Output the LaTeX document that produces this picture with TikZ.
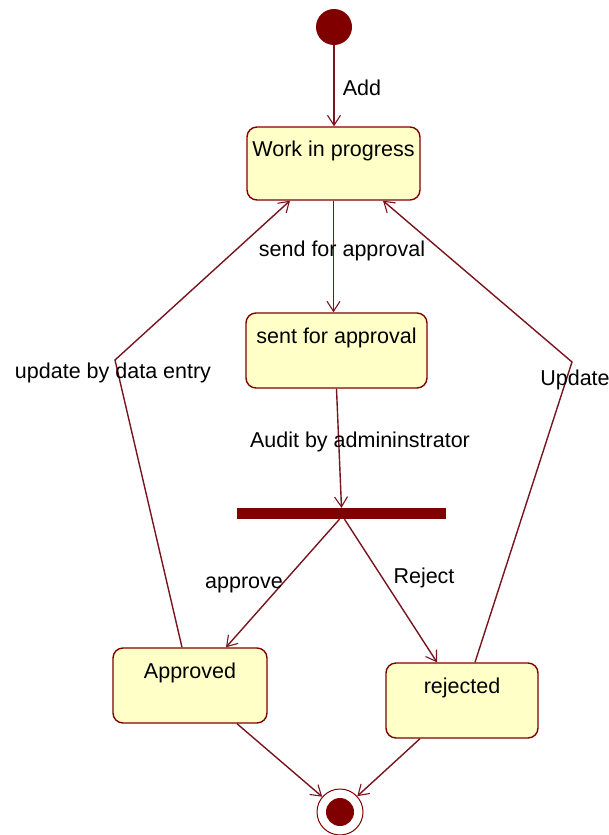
\documentclass[tikz,border=0pt]{standalone}
\usepackage{fontspec}
\setmainfont{Liberation Sans}
\usetikzlibrary{arrows.meta,calc}
\definecolor{umlred}{RGB}{128,0,0}
\definecolor{umlline}{RGB}{120,20,30}
\definecolor{umlfill}{RGB}{255,255,200}
\tikzset{
  state/.style={draw=umlred, fill=umlfill, rounded corners=10pt, line width=1.4pt,
    text height=15pt, text depth=29pt, inner sep=0pt, font=\fontsize{21.5}{25}\selectfont},
  trans/.style={draw=umlline, line width=1.4pt, -{Straight Barb[length=10pt,width=13pt,line width=1.1pt]}},
  lbl/.style={font=\fontsize{21.5}{25}\selectfont, inner sep=0pt},
}
\begin{document}
\begin{tikzpicture}[x=1pt,y=-1pt]
\useasboundingbox (0,0) rectangle (609,835);
% states
\node[circle, fill=umlred, minimum size=36pt, inner sep=0pt] (init) at (334,27) {};
\node[state, minimum width=173pt, minimum height=73pt] (wip) at (333.5,163.5) {Work in progress};
\node[state, minimum width=181pt, minimum height=75pt] (sent) at (336.5,350.5) {sent for approval};
\node[fill=umlred, minimum width=209pt, minimum height=11pt, inner sep=0pt] (bar) at (341.5,513.5) {};
\node[state, minimum width=154pt, minimum height=75pt] (appr) at (190,685.5) {Approved};
\node[state, minimum width=152pt, minimum height=75pt] (rej) at (462,700.5) {rejected};
\node[circle, draw=umlred, line width=1pt, fill=white, minimum size=46pt, inner sep=0pt] (final) at (340,812) {};
\node[circle, fill=umlred, minimum size=28pt, inner sep=0pt] (finalin) at (final.center) {};
% bend points
\coordinate (bendL) at (115,360);
\coordinate (bendR) at (572,362);
% transitions
\draw[trans] (init.south) -- (init.south |- wip.north);
\draw[trans] (wip.south) -- (wip.south |- sent.north);
\draw[trans] (sent.south) -- (bar.north);
\draw[trans] ([xshift=-2pt]bar.south) -- ([xshift=36pt]appr.north);
\draw[trans] ([xshift=3pt]bar.south) -- ([xshift=-25pt]rej.north);
\draw[trans] ([xshift=-8pt]appr.north) -- (bendL) -- ([xshift=-43.5pt]wip.south);
\draw[trans] ([xshift=13pt]rej.north) -- (bendR) -- ([xshift=49.5pt]wip.south);
\draw[trans] ([xshift=47pt]appr.south) -- (final);
\draw[trans] ([xshift=-42pt]rej.south) -- (final);
% labels
\node[lbl] (lAdd) at (362,88) {Add};
\node[lbl] (lSend) at (342,251) {send for approval};
\node[lbl] (lAudit) at (360,442) {Audit by admininstrator};
\node[lbl] (lUpd) at (113,373) {update by data entry};
\node[lbl] (lUpdate) at (575,380) {Update};
\node[lbl] (lApprove) at (244,585) {approve};
\node[lbl] (lReject) at (424,578) {Reject};
\end{tikzpicture}
\end{document}
